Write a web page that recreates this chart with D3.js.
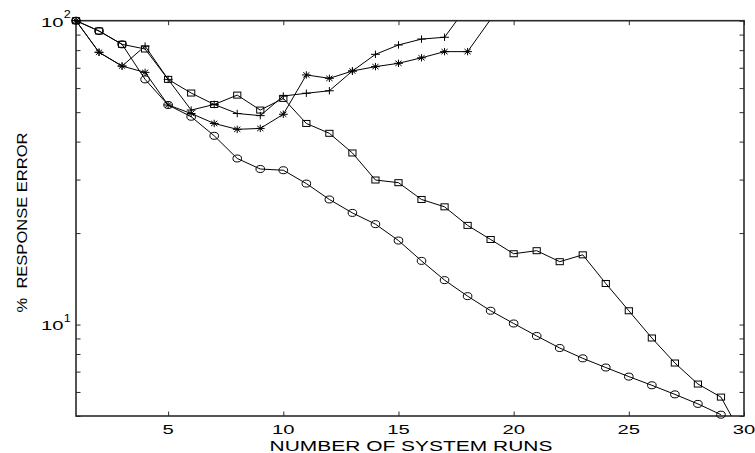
<!DOCTYPE html>
<html><head><meta charset="utf-8">
<script src="https://cdn.jsdelivr.net/npm/d3@7"></script>
<style>
body{margin:0;background:#fff}
svg{display:block}
text{font-family:"Liberation Sans",Arial,Helvetica,sans-serif;fill:#000}
</style>
</head><body>
<svg id="chart" width="755" height="453"></svg>
<script>
// ---- data ----
const runs = [1,2,3,4,5,6,7,8,9,10,11,12,13,14,15,16,17,18,19,20,21,22,23,24,25,26,27,28,29,30];
const circleErr = [100,92.5,83.6,64.1,52.8,48.3,41.8,35.2,32.5,32.2,29.1,25.8,23.3,21.4,18.9,16.2,14.0,12.4,11.1,10.08,9.17,8.37,7.74,7.22,6.74,6.31,5.89,5.48,5.05];
const squareErr = [100,92.5,83.6,80.7,64.1,57.8,53.0,56.9,50.8,55.5,45.9,42.6,36.7,29.9,29.3,25.8,24.4,21.2,19.05,17.1,17.5,16.1,16.96,13.65,11.1,9.03,7.47,6.37,5.77,4.2];
const plusErr = [100,78.7,70.9,82.5,64.1,50.8,53.0,49.5,48.7,56.5,57.7,58.8,68.3,77.5,83.2,87.0,88.2,112];
const starErr = [100,78.7,70.9,67.6,52.8,49.5,45.9,43.9,44.2,49.2,66.3,64.6,68.3,70.6,72.4,75.5,79.1,79.1,101];
const xTickValues = [5,10,15,20,25,30];
const yTickValues = [5,6,7,8,9,10,20,30,40,50,60,70,80,90,100];
const yLabelValues = [10,100];
const yLabelExps = ["1","2"];
const xTitle = "NUMBER OF SYSTEM RUNS";
const yTitle = "%  RESPONSE ERROR";

// ---- layout ----
const L = 76, R = 744, T = 20.7, B = 416;
const svg = d3.select("#chart");
const x = d3.scaleLinear().domain([1,30]).range([L,R]);
const y = d3.scaleLog().domain([5,100]).range([B,T]);

const defs = svg.append("defs");
defs.append("clipPath").attr("id","plotclip").append("rect")
  .attr("x",L).attr("y",T).attr("width",R-L).attr("height",B-T);

const tickLen = 4.5;
const axisColor = "#2a2a2a";

// axes via d3 axis generators (ticks inward, no labels)
const gAx = svg.append("g");
function styleAxis(g){
  g.select(".domain").remove();
  g.selectAll(".tick line").attr("stroke",axisColor).attr("stroke-width",1);
  g.selectAll(".tick text").remove();
}
gAx.append("g").attr("transform",`translate(0,${B})`)
  .call(d3.axisBottom(x).tickValues(xTickValues).tickSize(-tickLen)).call(styleAxis);
gAx.append("g").attr("transform",`translate(0,${T})`)
  .call(d3.axisTop(x).tickValues(xTickValues).tickSize(-tickLen)).call(styleAxis);
gAx.append("g").attr("transform",`translate(${L},0)`)
  .call(d3.axisLeft(y).tickValues(yTickValues).tickSize(-tickLen)).call(styleAxis);
gAx.append("g").attr("transform",`translate(${R},0)`)
  .call(d3.axisRight(y).tickValues(yTickValues).tickSize(-tickLen)).call(styleAxis);

// box
svg.append("rect").attr("x",L).attr("y",T).attr("width",R-L).attr("height",B-T)
  .attr("fill","none").attr("stroke",axisColor).attr("stroke-width",1.6);

// x tick labels
svg.append("g").selectAll("text").data(xTickValues).join("text")
  .attr("transform",d=>`translate(${x(d)},${B+18}) scale(1.5,1)`)
  .attr("text-anchor","middle").attr("font-size",13.5).text(d=>d);

// y tick labels 10^n
yLabelValues.forEach((v,i)=>{
  const ty = y(v);
  svg.append("text").attr("transform",`translate(63.5,${ty+5.8}) scale(1.5,1)`)
    .attr("text-anchor","end").attr("font-size",13.5).text("10");
  svg.append("text").attr("transform",`translate(63.8,${ty-2.5}) scale(1.2,1)`)
    .attr("text-anchor","start").attr("font-size",10.5).text(yLabelExps[i]);
});

// axis titles
const xt = svg.append("text").attr("text-anchor","middle").attr("font-size",15.5).text(xTitle);
const xw = xt.node().getComputedTextLength();
xt.attr("transform",`translate(411,451) scale(${283/xw},1)`);

const yt = svg.append("text").attr("text-anchor","middle").attr("font-size",15.5)
  .style("white-space","pre").text(yTitle);
const yw = yt.node().getComputedTextLength();
yt.attr("transform",`translate(26.7,222.5) rotate(-90) scale(${180/yw},1)`);

// ---- series ----
const series = [
  {vals: circleErr, m:"circle"},
  {vals: squareErr, m:"square"},
  {vals: plusErr,   m:"plus"},
  {vals: starErr,   m:"star"}
];
const line = d3.line().x(d=>x(d[0])).y(d=>y(d[1]));
const gLines = svg.append("g").attr("clip-path","url(#plotclip)");
series.forEach(s=>{
  const pts = s.vals.map((v,i)=>[runs[i],v]);
  gLines.append("path").datum(pts).attr("d",line)
    .attr("fill","none").attr("stroke","#000").attr("stroke-width",1);
});

function marker(g, type, cx, cy){
  const st = {stroke:"#000","stroke-width":1,fill:"none"};
  let el;
  if(type==="circle"){
    el = g.append("ellipse").attr("cx",cx).attr("cy",cy).attr("rx",4.3).attr("ry",3.5);
  } else if(type==="square"){
    el = g.append("rect").attr("x",cx-3.6).attr("y",cy-3).attr("width",7.2).attr("height",6);
  } else if(type==="plus"){
    el = g.append("path").attr("d",`M${cx-4.4},${cy}H${cx+4.4}M${cx},${cy-3.7}V${cy+3.7}`);
  } else {
    const a=4.4,b=3.7,c=3.1,d=2.6;
    el = g.append("path").attr("d",
      `M${cx-a},${cy}H${cx+a}M${cx},${cy-b}V${cy+b}M${cx-c},${cy-d}L${cx+c},${cy+d}M${cx-c},${cy+d}L${cx+c},${cy-d}`);
  }
  Object.entries(st).forEach(([k,v])=>el.attr(k,v));
}
const gMarks = svg.append("g");
series.forEach(s=>{
  s.vals.forEach((v,i)=>{
    if(v>=5 && v<=100 && runs[i]>=1 && runs[i]<=30) marker(gMarks, s.m, x(runs[i]), y(v));
  });
});
</script>
</body></html>
